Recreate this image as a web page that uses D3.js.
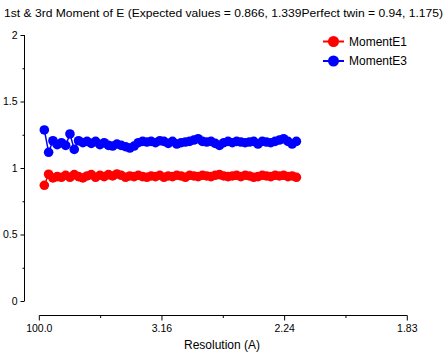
<!DOCTYPE html>
<html><head><meta charset="utf-8">
<script src="https://cdn.jsdelivr.net/npm/d3@7"></script>
<style>body{margin:0;background:#fff}svg{display:block}text{font-family:"Liberation Sans",Arial,sans-serif;fill:#000}</style>
</head><body><svg id="c" width="447" height="357"></svg>
<script>
// x values: resolution bins as 1/d^2 (1/A^2)
const invRes2 = [0.0041,0.0076,0.0111,0.0146,0.0180,0.0215,0.0250,0.0285,0.0320,0.0355,0.0389,0.0424,0.0459,0.0494,0.0529,0.0564,0.0598,0.0633,0.0668,0.0703,0.0738,0.0773,0.0807,0.0842,0.0877,0.0912,0.0947,0.0982,0.1016,0.1051,0.1086,0.1121,0.1156,0.1191,0.1225,0.1260,0.1295,0.1330,0.1365,0.1400,0.1434,0.1469,0.1504,0.1539,0.1574,0.1609,0.1643,0.1678,0.1713,0.1748,0.1783,0.1818,0.1852,0.1887,0.1922,0.1957,0.1992,0.2027,0.2061,0.2096];
const momentE1 = [0.87,0.953,0.925,0.935,0.93,0.945,0.93,0.95,0.935,0.925,0.94,0.95,0.93,0.945,0.935,0.95,0.94,0.955,0.945,0.93,0.94,0.935,0.945,0.935,0.93,0.94,0.935,0.945,0.93,0.94,0.935,0.945,0.94,0.93,0.945,0.94,0.935,0.945,0.94,0.935,0.945,0.95,0.94,0.935,0.94,0.945,0.935,0.945,0.94,0.93,0.935,0.945,0.94,0.935,0.945,0.94,0.945,0.935,0.94,0.93];
const momentE3 = [1.286,1.118,1.205,1.175,1.19,1.17,1.256,1.14,1.205,1.19,1.2,1.185,1.2,1.175,1.19,1.17,1.165,1.18,1.17,1.16,1.15,1.165,1.19,1.2,1.195,1.2,1.19,1.205,1.2,1.185,1.2,1.18,1.19,1.195,1.2,1.21,1.22,1.2,1.195,1.2,1.185,1.17,1.19,1.2,1.19,1.2,1.195,1.19,1.195,1.2,1.18,1.2,1.195,1.19,1.2,1.21,1.22,1.2,1.18,1.2];
const xTickValues = [0,0.05,0.1,0.15,0.2,0.25,0.3];
const xTickLabels = ["100.0","","3.16","","2.24","","1.83"];
const yTickValues = [0,0.25,0.5,0.75,1,1.25,1.5,1.75,2];
const yTickLabels = ["0","","0.5","","1","","1.5","","2"];
const seriesNames = ["MomentE1","MomentE3"];
const seriesColors = ["#ff0000","#0000ff"];
const titleText = "1st & 3rd Moment of E  (Expected values = 0.866, 1.339Perfect twin = 0.94, 1.175)";
const xTitle = "Resolution (A)";

const svg = d3.select("#c");
const x = d3.scaleLinear().domain([0,0.3]).range([39.3,407.3]);
const y = d3.scaleLinear().domain([0,2]).range([301,35]);

svg.append("text").attr("x",4).attr("y",17).attr("font-size",11.5)
  .attr("textLength",439).attr("lengthAdjust","spacingAndGlyphs").text(titleText);

// Y axis
const ya = svg.append("g").attr("transform","translate(24.5,0)");
ya.append("line").attr("x1",0).attr("x2",0).attr("y1",y(2)).attr("y2",y(0)).attr("stroke","#000");
yTickValues.forEach((v,i)=>{
  const major = yTickLabels[i] !== "";
  ya.append("line").attr("x1",major?-4:-2).attr("x2",0).attr("y1",y(v)+0.5).attr("y2",y(v)+0.5).attr("stroke","#000");
  if(major) ya.append("text").attr("x",-7).attr("y",y(v)).attr("dy","0.35em")
    .attr("text-anchor","end").attr("font-size",10.5).text(yTickLabels[i]);
});

// X axis
const xa = svg.append("g").attr("transform","translate(0,315.5)");
xa.append("line").attr("x1",x(0)).attr("x2",x(0.3)).attr("y1",0).attr("y2",0).attr("stroke","#000");
xTickValues.forEach((v,i)=>{
  const major = xTickLabels[i] !== "";
  xa.append("line").attr("x1",x(v)).attr("x2",x(v)).attr("y1",0).attr("y2",major?5:2.5).attr("stroke","#000");
  if(major) xa.append("text").attr("x",x(v)).attr("y",12.5).attr("dy","0.35em")
    .attr("text-anchor","middle").attr("font-size",10.5).text(xTickLabels[i]);
});
svg.append("text").attr("x",184).attr("y",345).attr("dy","0.35em")
  .attr("font-size",12).attr("textLength",76).attr("lengthAdjust","spacingAndGlyphs").text(xTitle);

// Series
const series = [momentE1, momentE3];
const line = d3.line().x((d,i)=>x(invRes2[i])).y(d=>y(d));
series.forEach((vals,k)=>{
  const g = svg.append("g");
  g.append("path").datum(vals).attr("d",line).attr("fill","none").attr("stroke",seriesColors[k]).attr("stroke-width",1.5);
  g.selectAll("circle").data(vals).join("circle")
    .attr("cx",(d,i)=>x(invRes2[i])).attr("cy",d=>y(d)).attr("r",4.8).attr("fill",seriesColors[k]);
});

// Legend
seriesNames.forEach((n,k)=>{
  const ly = 41.5 + k*19.5;
  svg.append("line").attr("x1",323).attr("x2",344).attr("y1",ly).attr("y2",ly).attr("stroke",seriesColors[k]).attr("stroke-width",2);
  svg.append("circle").attr("cx",333.5).attr("cy",ly).attr("r",5.5).attr("fill",seriesColors[k]);
  svg.append("text").attr("x",349).attr("y",ly).attr("dy","0.35em").attr("font-size",12)
    .attr("textLength",58).attr("lengthAdjust","spacingAndGlyphs").text(n);
});
</script></body></html>
